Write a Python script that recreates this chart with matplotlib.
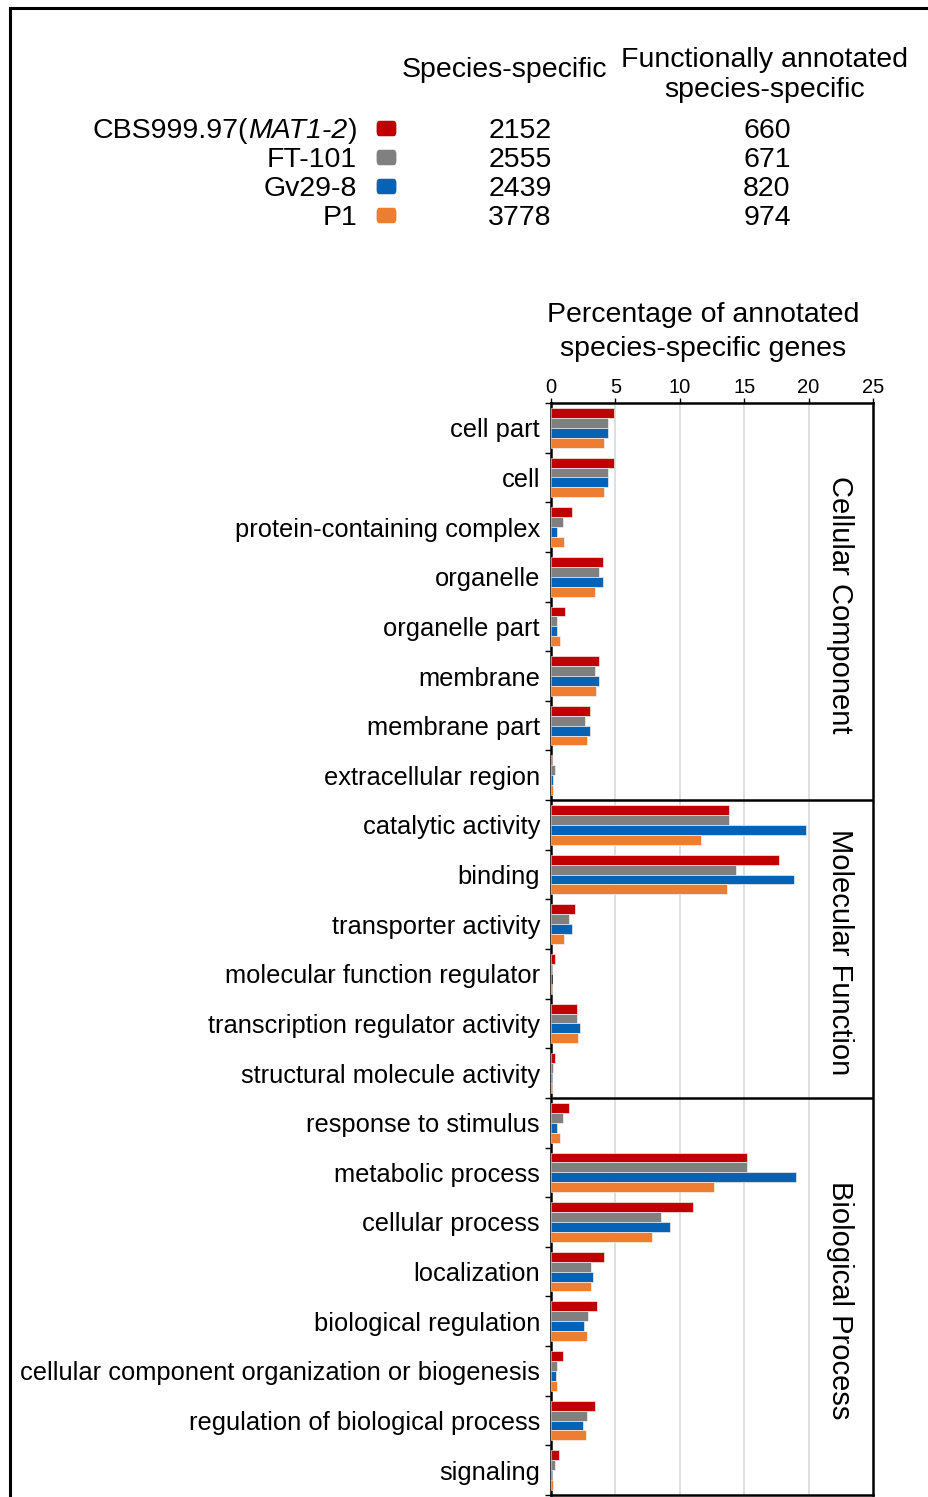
import matplotlib
matplotlib.use("Agg")
import matplotlib.pyplot as plt
import numpy as np
from matplotlib.patches import FancyBboxPatch
from matplotlib.lines import Line2D

plt.rcParams['font.family'] = ['Liberation Sans', 'DejaVu Sans']

# ---- data -------------------------------------------------------------
strain_ids = ["CBS999.97", "FT-101", "Gv29-8", "P1"]
strain_mating = ["MAT1-2", "", "", ""]
species_specific = [2152, 2555, 2439, 3778]
annotated_specific = [660, 671, 820, 974]
colors = ["#C00000", "#808080", "#0562B4", "#ED7D31"]

cc_terms = ["cell part", "cell", "protein-containing complex", "organelle",
            "organelle part", "membrane", "membrane part", "extracellular region"]
mf_terms = ["catalytic activity", "binding", "transporter activity",
            "molecular function regulator", "transcription regulator activity",
            "structural molecule activity"]
bp_terms = ["response to stimulus", "metabolic process", "cellular process",
            "localization", "biological regulation",
            "cellular component organization or biogenesis",
            "regulation of biological process", "signaling"]

# percentage of annotated species-specific genes, one list per strain
pct_cbs = [4.88, 4.88, 1.6, 4.0, 1.11, 3.7, 3.0, 0.1,
           13.82, 17.7, 1.89, 0.3, 2.04, 0.3,
           1.4, 15.22, 11.06, 4.08, 3.59, 0.9, 3.41, 0.59]
pct_ft = [4.39, 4.39, 0.9, 3.7, 0.49, 3.38, 2.66, 0.3,
          13.82, 14.34, 1.4, 0.1, 1.99, 0.18,
          0.9, 15.22, 8.55, 3.07, 2.89, 0.49, 2.79, 0.28]
pct_gv = [4.39, 4.39, 0.49, 4.0, 0.49, 3.7, 3.0, 0.18,
          19.82, 18.9, 1.6, 0.02, 2.27, 0.1,
          0.49, 19.0, 9.25, 3.28, 2.58, 0.39, 2.48, 0.1]
pct_p1 = [4.11, 4.11, 1.0, 3.38, 0.7, 3.51, 2.79, 0.18,
          11.65, 13.64, 1.0, 0.1, 2.12, 0.1,
          0.7, 12.64, 7.88, 3.1, 2.79, 0.49, 2.69, 0.18]

panels = ["Cellular Component", "Molecular Function", "Biological Process"]
x_ticks = [0, 5, 10, 15, 20, 25]

# ---- figure -----------------------------------------------------------
W, H = 929, 1497
fig = plt.figure(figsize=(W / 100, H / 100), dpi=100)
renderer = fig.canvas.get_renderer()

# outer frame (left and top edges)
fig.add_artist(Line2D([10 / W, 10 / W], [0, 1 - 8 / H], color="black", lw=2.2,
                      transform=fig.transFigure))
fig.add_artist(Line2D([10 / W, 1], [1 - 8 / H, 1 - 8 / H], color="black", lw=2.2,
                      transform=fig.transFigure))

ax_l, ax_r, ax_t, ax_b = 551, 873, 403, 1495
ax = fig.add_axes([ax_l / W, 1 - ax_b / H, (ax_r - ax_l) / W, (ax_b - ax_t) / H])

terms = cc_terms + mf_terms + bp_terms
n = len(terms)
y = np.arange(n)
series = [pct_cbs, pct_ft, pct_gv, pct_p1]
bh = 0.2
offsets = [-0.3, -0.1, 0.1, 0.3]
for vals, off, c in zip(series, offsets, colors):
    ax.barh(y + off, vals, height=bh, color=c, edgecolor="white",
            linewidth=0.4, zorder=3)

ax.set_xlim(0, 25)
ax.set_ylim(n - 0.5, -0.5)

# vertical grid
for gx in x_ticks[1:-1]:
    ax.axvline(gx, color="#D9D9D9", lw=1.2, zorder=1)

# panel separators
sizes = [len(cc_terms), len(mf_terms), len(bp_terms)]
bounds = np.cumsum([0] + sizes)
for b in bounds[1:-1]:
    ax.axhline(b - 0.5, color="black", lw=1.8, zorder=4)

for i, name in enumerate(panels):
    yc = (bounds[i] + bounds[i + 1] - 1) / 2 + 0.07
    ax.text(22.45, yc, name, rotation=270, ha="center", va="center",
            fontsize=21, zorder=5)

for s in ax.spines.values():
    s.set_linewidth(1.8)

ax.xaxis.tick_top()
ax.set_xticks(x_ticks)
ax.set_xticklabels([str(v) for v in x_ticks], fontsize=14.5)
ax.tick_params(axis="x", length=3.5, width=1, pad=0.5)

ax.set_yticks(y)
ax.set_yticklabels(terms, fontsize=18.4)
ax.tick_params(axis="y", which="major", length=0, pad=8)
ax.set_yticks(np.arange(-0.5, n, 1.0), minor=True)
ax.tick_params(axis="y", which="minor", length=4, width=1)

# axis header
fig.text(703.5 / W, 1 - 332 / H,
         "Percentage of annotated\nspecies-specific genes",
         ha="center", va="center", fontsize=20.5, linespacing=1.4)

# legend table
fs = 20.5
fig.text(504 / W, 1 - 70 / H, "Species-specific", ha="center", va="center",
         fontsize=fs)
fig.text(765 / W, 1 - 75 / H, "Functionally annotated\nspecies-specific",
         ha="center", va="center", fontsize=fs, linespacing=1.2)

row_y = [128, 157, 186, 215]
right = 357 / W
for sid, mt, a, b, c, ry in zip(strain_ids, strain_mating, species_specific,
                                annotated_specific, colors, row_y):
    base = 1 - (ry + 10) / H
    if mt:
        # plain id, italic mating type in parentheses
        x = right
        t = fig.text(x, base, ")", ha="right", va="baseline", fontsize=fs)
        x -= t.get_window_extent(renderer).width / W
        t = fig.text(x, base, mt, ha="right", va="baseline", fontsize=fs,
                     style="italic")
        x -= t.get_window_extent(renderer).width / W
        fig.text(x, base, sid + "(", ha="right", va="baseline", fontsize=fs)
    else:
        fig.text(right, base, sid, ha="right", va="baseline", fontsize=fs)
    fig.text(520 / W, base, str(a), ha="center", va="baseline", fontsize=fs)
    fig.text(767 / W, base, str(b), ha="center", va="baseline", fontsize=fs)
    sq = FancyBboxPatch((378 / W, 1 - (ry + 6) / H), 17 / W, 11 / H,
                        boxstyle="round,pad=0.0015,rounding_size=0.003",
                        transform=fig.transFigure, facecolor=c,
                        edgecolor="none")
    fig.add_artist(sq)

fig.savefig("out.png", dpi=100)
